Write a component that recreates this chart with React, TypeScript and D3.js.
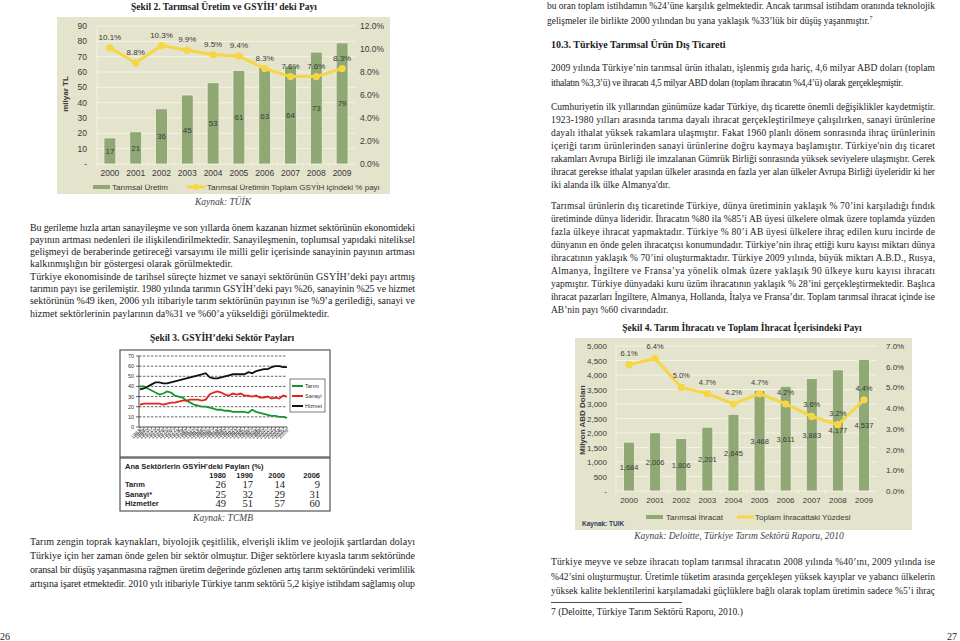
import React from 'react';
import * as d3 from 'd3';

// ---------- DATA ----------
const prodYears = ['2000', '2001', '2002', '2003', '2004', '2005', '2006', '2007', '2008', '2009'];
const prodValues = [17, 21, 36, 45, 53, 61, 63, 64, 73, 79];
const prodShare = [10.1, 8.8, 10.3, 9.9, 9.5, 9.4, 8.3, 7.6, 7.6, 8.3];
const prodTicks = [0, 10, 20, 30, 40, 50, 60, 70, 80, 90];
const prodShareTicks = [0, 2, 4, 6, 8, 10, 12];

const exportYears = ['2000', '2001', '2002', '2003', '2004', '2005', '2006', '2007', '2008', '2009'];
const exportValues = [1684, 2006, 1806, 2201, 2645, 3468, 3611, 3883, 4177, 4537];
const exportShare = [6.1, 6.4, 5.0, 4.7, 4.2, 4.7, 4.2, 3.6, 3.2, 4.4];
const exportTicks = [0, 500, 1000, 1500, 2000, 2500, 3000, 3500, 4000, 4500, 5000];
const exportShareTicks = [0, 1, 2, 3, 4, 5, 6, 7];

const sectorYears = [1968, 1969, 1970, 1971, 1972, 1973, 1974, 1975, 1976, 1977, 1978, 1979, 1980, 1981, 1982, 1983, 1984, 1985, 1986, 1987, 1988, 1989, 1990, 1991, 1992, 1993, 1994, 1995, 1996, 1997, 1998, 1999, 2000, 2001, 2002, 2003, 2004, 2005, 2006];
const tarimSeries = [40, 40, 38, 36, 34, 32, 33, 35, 34, 31, 30, 29, 26, 24, 22, 21, 20, 20, 19, 18, 17, 17, 16, 16, 15, 15, 15, 15, 14, 17, 15, 14, 13, 12, 11, 11, 10, 10, 9];
const sanayiSeries = [22, 23, 23, 23, 23, 23, 22, 23, 24, 24, 25, 26, 26, 27, 27, 27, 26, 27, 32, 34, 35, 34, 32, 31, 33, 32, 33, 31, 31, 30, 31, 29, 29, 30, 28, 29, 28, 31, 30];
const hizmetSeries = [37, 38, 40, 42, 44, 44, 43, 43, 44, 45, 46, 47, 48, 49, 50, 51, 52, 53, 49, 48, 48, 49, 50, 51, 52, 52, 52, 52, 54, 53, 55, 56, 57, 57, 59, 60, 60, 59, 59];
const sectorTicks = [0, 10, 20, 30, 40, 50, 60, 70];
const sectorNames = ['Tarım', 'Sanayi', 'Hizmet'];

const tableYears = ['1980', '1990', '2000', '2006'];
const tableRowNames = ['Tarım', 'Sanayi*', 'Hizmetler'];
const tableTarim = [26, 17, 14, 9];
const tableSanayi = [25, 32, 29, 31];
const tableHizmet = [49, 51, 57, 60];

// ---------- TEXT ----------
const rightTop = [
  'bu oran toplam istihdamın %24’üne karşılık gelmektedir. Ancak tarımsal istihdam oranında teknolojik',
  'gelişmeler ile birlikte 2000 yılından bu yana yaklaşık %33’lük bir düşüş yaşanmıştır.',
];
const rightP1 = [
  '2009 yılında Türkiye’nin tarımsal ürün ithalatı, işlenmiş gıda hariç, 4,6 milyar ABD doları (toplam',
  'ithalatın %3,3’ü) ve ihracatı 4,5 milyar ABD doları (toplam ihracatın %4,4’ü) olarak gerçekleşmiştir.',
];
const rightP2 = [
  'Cumhuriyetin ilk yıllarından günümüze kadar Türkiye, dış ticarette önemli değişiklikler kaydetmiştir.',
  '1923-1980 yılları arasında tarıma dayalı ihracat gerçekleştirilmeye çalışılırken, sanayi ürünlerine',
  'dayalı ithalat yüksek rakamlara ulaşmıştır. Fakat 1960 planlı dönem sonrasında ihraç ürünlerinin',
  'içeriği tarım ürünlerinden sanayi ürünlerine doğru kaymaya başlamıştır. Türkiye\'nin dış ticaret',
  'rakamları Avrupa Birliği ile imzalanan Gümrük Birliği sonrasında yüksek seviyelere ulaşmıştır. Gerek',
  'ihracat gerekse ithalat yapılan ülkeler arasında en fazla yer alan ülkeler Avrupa Birliği üyeleridir ki her',
  'iki alanda ilk ülke Almanya\'dır.',
];
const rightP3 = [
  'Tarımsal ürünlerin dış ticaretinde Türkiye, dünya üretiminin yaklaşık % 70’ini karşıladığı fındık',
  'üretiminde dünya lideridir. İhracatın %80 ila %85’i AB üyesi ülkelere olmak üzere toplamda yüzden',
  'fazla ülkeye ihracat yapmaktadır. Türkiye % 80’i AB üyesi ülkelere ihraç edilen kuru incirde de',
  'dünyanın en önde gelen ihracatçısı konumundadır. Türkiye’nin ihraç ettiği kuru kayısı miktarı dünya',
  'ihracatının yaklaşık % 70’ini oluşturmaktadır. Türkiye 2009 yılında, büyük miktarı A.B.D., Rusya,',
  'Almanya, İngiltere ve Fransa’ya yönelik olmak üzere yaklaşık 90 ülkeye kuru kayısı ihracatı',
  'yapmıştır. Türkiye dünyadaki kuru üzüm ihracatının yaklaşık % 28’ini gerçekleştirmektedir. Başlıca',
  'ihracat pazarları İngiltere, Almanya, Hollanda, İtalya ve Fransa’dır. Toplam tarımsal ihracat içinde ise',
  'AB’nin payı %60 civarındadır.',
];
const rightP4 = [
  'Türkiye meyve ve sebze ihracatı toplam tarımsal ihracatın 2008 yılında %40’ını, 2009 yılında ise',
  '%42’sini oluşturmuştur. Üretimle tüketim arasında gerçekleşen yüksek kayıplar ve yabancı ülkelerin',
  'yüksek kalite beklentilerini karşılamadaki güçlüklere bağlı olarak toplam üretimin sadece %5’i ihraç',
];
const leftP1 = [
  'Bu gerileme hızla artan sanayileşme ve son yıllarda önem kazanan hizmet sektörünün ekonomideki',
  'payının artması nedenleri ile ilişkilendirilmektedir. Sanayileşmenin, toplumsal yapıdaki niteliksel',
  'gelişmeyi de beraberinde getireceği varsayımı ile milli gelir içerisinde sanayinin payının artması',
  'kalkınmışlığın bir göstergesi olarak görülmektedir.',
];
const leftP2 = [
  'Türkiye ekonomisinde de tarihsel süreçte hizmet ve sanayi sektörünün GSYİH’deki payı artmış',
  'tarımın payı ise gerilemiştir. 1980 yılında tarımın GSYİH’deki payı %26, sanayinin %25 ve hizmet',
  'sektörünün %49 iken, 2006 yılı itibariyle tarım sektörünün payının ise %9’a gerilediği, sanayi ve',
  'hizmet sektörlerinin paylarının da%31 ve %60’a yükseldiği görülmektedir.',
];
const leftP3 = [
  'Tarım zengin toprak kaynakları, biyolojik çeşitlilik, elverişli iklim ve jeolojik şartlardan dolayı',
  'Türkiye için her zaman önde gelen bir sektör olmuştur. Diğer sektörlere kıyasla tarım sektöründe',
  'oransal bir düşüş yaşanmasına rağmen üretim değerinde gözlenen artış tarım sektöründeki verimlilik',
  'artışına işaret etmektedir. 2010 yılı itibariyle Türkiye tarım sektörü 5,2 kişiye istihdam sağlamış olup',
];

const SERIF = '"Liberation Serif", "Times New Roman", serif';
const SANS = '"Liberation Sans", Arial, sans-serif';
const INK = '#1c1c1c';
const PANEL = '#e4e3cb';
const GRID = '#f4f3e6';
const BAR = '#8fa874';
const YEL = '#f6d645';
const CHART_TXT = '#3a3a3a';

function Para({ lines, x, y, width, step, size, lastJustified = false, lastWidth }: any) {
  return (
    <g fontFamily={SERIF} fontSize={size} fill={INK}>
      {lines.map((l: string, i: number) => {
        const isLast = i === lines.length - 1;
        const w = isLast ? (lastJustified ? width : lastWidth) : width;
        return (
          <text key={i} x={x} y={y + i * step} {...(w ? { textLength: w, lengthAdjust: 'spacing' } : {})}>
            {l}
          </text>
        );
      })}
    </g>
  );
}

function ProdChart() {
  const x = d3.scaleBand<string>().domain(prodYears).range([97, 355]);
  const y = d3.scaleLinear().domain([0, 90]).range([164, 26]);
  const yr = d3.scaleLinear().domain([0, 12]).range([164, 26]);
  const bw = x.bandwidth() * 0.46;
  const cx = (d: string) => (x(d) as number) + x.bandwidth() / 2;
  const line = d3.line<number>().x((_, i) => cx(prodYears[i])).y((d) => yr(d));
  return (
    <g fontFamily={SANS} fill={CHART_TXT}>
      <rect x={57} y={17} width={333} height={177} fill={PANEL} />
      {prodTicks.filter((t) => t > 0).map((t) => (
        <line key={t} x1={97} x2={355} y1={y(t)} y2={y(t)} stroke={GRID} strokeWidth={1} />
      ))}
      <line x1={97} x2={97} y1={26} y2={164} stroke={GRID} />
      <line x1={97} x2={355} y1={164} y2={164} stroke={GRID} />
      {prodYears.map((d) => (
        <line key={d} x1={x(d)} x2={x(d)} y1={164} y2={167} stroke={GRID} />
      ))}
      {prodTicks.map((t) => (
        <text key={t} x={87} y={y(t) + 3} fontSize={8.5} textAnchor="end">{t === 0 ? '-' : t}</text>
      ))}
      {prodShareTicks.map((t) => (
        <text key={t} x={360} y={yr(t) + 3} fontSize={8.5}>{t.toFixed(1) + '%'}</text>
      ))}
      {prodYears.map((d) => (
        <text key={d} x={cx(d)} y={176} fontSize={8.5} textAnchor="middle">{d}</text>
      ))}
      <text transform="translate(68,94) rotate(-90)" fontSize={8} fontWeight="bold" textAnchor="middle">milyar TL</text>
      {prodValues.map((v, i) => (
        <g key={i}>
          <rect x={cx(prodYears[i]) - bw / 2} y={y(v)} width={bw} height={164 - y(v)} fill={BAR} stroke="#f1f1e2" strokeWidth={0.8} />
          <text x={cx(prodYears[i])} y={(y(v) + 164) / 2 + 3} fontSize={8} textAnchor="middle">{v}</text>
        </g>
      ))}
      <path d={line(prodShare) as string} fill="none" stroke={YEL} strokeWidth={3} />
      {prodShare.map((v, i) => (
        <g key={i}>
          <circle cx={cx(prodYears[i])} cy={yr(v)} r={3.6} fill={YEL} />
          <text x={cx(prodYears[i])} y={yr(v) - 8} fontSize={8} textAnchor="middle">{v.toFixed(1) + '%'}</text>
        </g>
      ))}
      <rect x={93} y={185} width={17} height={4} fill={BAR} />
      <text x={112} y={190} fontSize={8}>Tarımsal Üretim</text>
      <line x1={187} x2={206} y1={187} y2={187} stroke={YEL} strokeWidth={3} />
      <circle cx={196} cy={187} r={3} fill={YEL} />
      <text x={207} y={190} fontSize={8}>Tarımsal Üretimin Toplam GSYİH içindeki % payı</text>
    </g>
  );
}

function ExportChart() {
  const x = d3.scaleBand<string>().domain(exportYears).range([616, 877]);
  const y = d3.scaleLinear().domain([0, 5000]).range([491, 346]);
  const yr = d3.scaleLinear().domain([0, 7]).range([491, 346]);
  const bw = x.bandwidth() * 0.42;
  const cx = (d: string) => (x(d) as number) + x.bandwidth() / 2;
  const line = d3.line<number>().x((_, i) => cx(exportYears[i])).y((d) => yr(d));
  const fmt = d3.format(',');
  return (
    <g fontFamily={SANS} fill={CHART_TXT}>
      <rect x={575} y={338} width={337} height={192} fill={PANEL} />
      {exportTicks.filter((t) => t > 0).map((t) => (
        <line key={t} x1={616} x2={877} y1={y(t)} y2={y(t)} stroke={GRID} />
      ))}
      <line x1={616} x2={616} y1={346} y2={491} stroke={GRID} />
      <line x1={616} x2={877} y1={491} y2={491} stroke={GRID} />
      {exportYears.map((d) => (
        <line key={d} x1={x(d)} x2={x(d)} y1={491} y2={494} stroke={GRID} />
      ))}
      {exportTicks.map((t) => (
        <text key={t} x={607} y={y(t) + 3} fontSize={8} textAnchor="end">{t === 0 ? '-' : fmt(t)}</text>
      ))}
      {exportShareTicks.map((t) => (
        <text key={t} x={886} y={yr(t) + 3} fontSize={8}>{t.toFixed(1) + '%'}</text>
      ))}
      {exportYears.map((d) => (
        <text key={d} x={cx(d)} y={503} fontSize={8} textAnchor="middle">{d}</text>
      ))}
      <text transform="translate(585,420) rotate(-90)" fontSize={8} fontWeight="bold" textAnchor="middle">Milyon ABD Doları</text>
      {exportValues.map((v, i) => (
        <g key={i}>
          <rect x={cx(exportYears[i]) - bw / 2} y={y(v)} width={bw} height={491 - y(v)} fill={BAR} stroke="#f1f1e2" strokeWidth={0.8} />
          <text x={cx(exportYears[i])} y={(y(v) + 491) / 2 + 3} fontSize={7.5} textAnchor="middle">{fmt(v)}</text>
        </g>
      ))}
      <path d={line(exportShare) as string} fill="none" stroke={YEL} strokeWidth={3} />
      {exportShare.map((v, i) => (
        <g key={i}>
          <circle cx={cx(exportYears[i])} cy={yr(v)} r={3.6} fill={YEL} />
          <text x={cx(exportYears[i])} y={yr(v) - 9} fontSize={7.5} textAnchor="middle">{v.toFixed(1) + '%'}</text>
        </g>
      ))}
      <rect x={646} y={515} width={17} height={4} fill={BAR} />
      <text x={666} y={520} fontSize={8}>Tarımsal İhracat</text>
      <line x1={737} x2={754} y1={517} y2={517} stroke={YEL} strokeWidth={3} />
      <text x={755} y={520} fontSize={8}>Toplam İhracattaki Yüzdesi</text>
      <text x={582} y={526} fontSize={6.5} fontWeight="bold" fill="#2e3e5a">Kaynak: TUIK</text>
    </g>
  );
}

function SectorChart() {
  const x = d3.scaleLinear().domain([1968, 2006]).range([140, 287]);
  const y = d3.scaleLinear().domain([0, 70]).range([427, 356]);
  const mk = (s: number[]) =>
    d3.line<number>().x((_, i) => x(sectorYears[i])).y((d) => y(d))(s) as string;
  const series = [tarimSeries, sanayiSeries, hizmetSeries];
  const colors = ['#17962a', '#e3241d', '#111111'];
  const tableRows = [tableTarim, tableSanayi, tableHizmet];
  const colX = [226, 253, 285, 320];
  return (
    <g>
      <rect x={120} y={350} width={210} height={107} fill="#fff" stroke="#555" strokeWidth={1.2} />
      <rect x={120} y={458} width={210} height={53} fill="#fff" stroke="#555" strokeWidth={1.2} />
      {sectorTicks.filter((t) => t > 0).map((t) => (
        <line key={t} x1={139} x2={287} y1={y(t)} y2={y(t)} stroke="#222" strokeWidth={0.7} strokeDasharray="2.5,1.5" />
      ))}
      <line x1={139} x2={139} y1={356} y2={427} stroke="#222" strokeWidth={0.8} />
      <line x1={139} x2={287} y1={427} y2={427} stroke="#222" strokeWidth={0.8} />
      {sectorTicks.map((t) => (
        <g key={t}>
          <line x1={136} x2={139} y1={y(t)} y2={y(t)} stroke="#222" strokeWidth={0.7} />
          <text x={134} y={y(t) + 2} fontSize={5.5} fontFamily={SANS} textAnchor="end" fill="#333">{t}</text>
        </g>
      ))}
      {sectorYears.map((yy) => (
        <g key={yy}>
          <line x1={x(yy)} x2={x(yy)} y1={427} y2={429.5} stroke="#222" strokeWidth={0.6} />
          <text transform={`translate(${x(yy) + 1.5},${431}) rotate(-45)`} fontSize={5.3} fontFamily={SANS} textAnchor="end" fill="#222">{yy}</text>
        </g>
      ))}
      {series.map((s, i) => (
        <path key={i} d={mk(s)} fill="none" stroke={colors[i]} strokeWidth={1.8} />
      ))}
      <rect x={290} y={379} width={35} height={33} fill="#fff" stroke="#222" strokeWidth={0.6} />
      {sectorNames.map((n, i) => (
        <g key={n}>
          <line x1={292} x2={303} y1={386 + i * 10} y2={386 + i * 10} stroke={colors[i]} strokeWidth={2} />
          <text x={305} y={388 + i * 10} fontSize={5.5} fontFamily={SANS} fill="#333">{n}</text>
        </g>
      ))}
      <text x={125} y={469} fontSize={7.5} fontFamily={SANS} fontWeight="bold" fill="#222">Ana Sektörlerin GSYİH’deki Payları (%)</text>
      {tableYears.map((t, i) => (
        <text key={t} x={colX[i]} y={477.5} fontSize={7.5} fontFamily={SANS} fontWeight="bold" textAnchor="end" fill="#222">{t}</text>
      ))}
      {tableRowNames.map((n, r) => (
        <g key={n}>
          <text x={125} y={487 + r * 9.5} fontSize={7.5} fontFamily={SANS} fontWeight="bold" fill="#222">{n}</text>
          {tableRows[r].map((v, i) => (
            <text key={i} x={colX[i]} y={488 + r * 9.5} fontSize={10.5} fontFamily={SERIF} textAnchor="end" fill="#222">{v}</text>
          ))}
        </g>
      ))}
    </g>
  );
}

export default function App() {
  return (
    <svg width={960} height={641} style={{ position: 'absolute', left: 0, top: 0, background: '#fff' }}>
      <rect x={0} y={0} width={960} height={641} fill="#fff" />
      {/* Left page */}
      <text x={224} y={9.5} fontFamily={SERIF} fontSize={9.5} fontWeight="bold" textAnchor="middle" fill={INK}>Şekil 2. Tarımsal Üretim ve GSYİH’ deki Payı</text>
      <ProdChart />
      <text x={223} y={205} fontFamily={SERIF} fontSize={9.5} fontStyle="italic" textAnchor="middle" fill="#444">Kaynak: TÜİK</text>
      <Para lines={leftP1} x={30} y={230.5} width={385} step={12.3} size={10} />
      <Para lines={leftP2} x={30} y={279.7} width={385} step={12.3} size={10} />
      <text x={222} y={340.5} fontFamily={SERIF} fontSize={9.5} fontWeight="bold" textAnchor="middle" fill={INK}>Şekil 3. GSYİH’deki Sektör Payları</text>
      <SectorChart />
      <text x={223} y={521} fontFamily={SERIF} fontSize={9.5} fontStyle="italic" textAnchor="middle" fill="#444">Kaynak: TCMB</text>
      <Para lines={leftP3} x={30} y={544.5} width={385} step={14.3} size={10} lastJustified />
      <text x={0} y={640} fontFamily={SERIF} fontSize={10} fill={INK}>26</text>

      {/* Right page */}
      <g fontFamily={SERIF} fontSize={9.5} fill={INK}>
        <text x={547} y={9.3} textLength={388} lengthAdjust="spacing">{rightTop[0]}</text>
        <text x={547} y={24}>
          {rightTop[1]}
          <tspan dy={-4} fontSize={6}>7</tspan>
        </text>
      </g>
      <text x={551} y={47.5} fontFamily={SERIF} fontSize={10} fontWeight="bold" fill={INK}>10.3.  Türkiye Tarımsal Ürün Dış Ticareti</text>
      <Para lines={rightP1} x={551} y={71.3} width={384} step={15} size={9.5} lastWidth={352} />
      <Para lines={rightP2} x={551} y={110.3} width={384} step={13} size={9.5} />
      <Para lines={rightP3} x={551} y={209.3} width={384} step={13} size={9.5} />
      <text x={742} y={330.5} fontFamily={SERIF} fontSize={9.5} fontWeight="bold" textAnchor="middle" fill={INK}>Şekil 4. Tarım İhracatı ve Toplam İhracat İçerisindeki Payı</text>
      <ExportChart />
      <text x={739} y={539} fontFamily={SERIF} fontSize={9.5} fontStyle="italic" textAnchor="middle" fill="#444">Kaynak: Deloitte, Türkiye Tarım Sektörü Raporu, 2010</text>
      <Para lines={rightP4} x={551} y={565.3} width={384} step={14.5} size={9.5} lastJustified />
      <line x1={551} x2={682} y1={602.5} y2={602.5} stroke={INK} strokeWidth={0.8} />
      <text x={551} y={614.5} fontFamily={SERIF} fontSize={9.5} fill={INK}>7 (Deloitte, Türkiye Tarım Sektörü Raporu, 2010.)</text>
      <text x={947} y={640} fontFamily={SERIF} fontSize={10} fill={INK}>27</text>
    </svg>
  );
}
